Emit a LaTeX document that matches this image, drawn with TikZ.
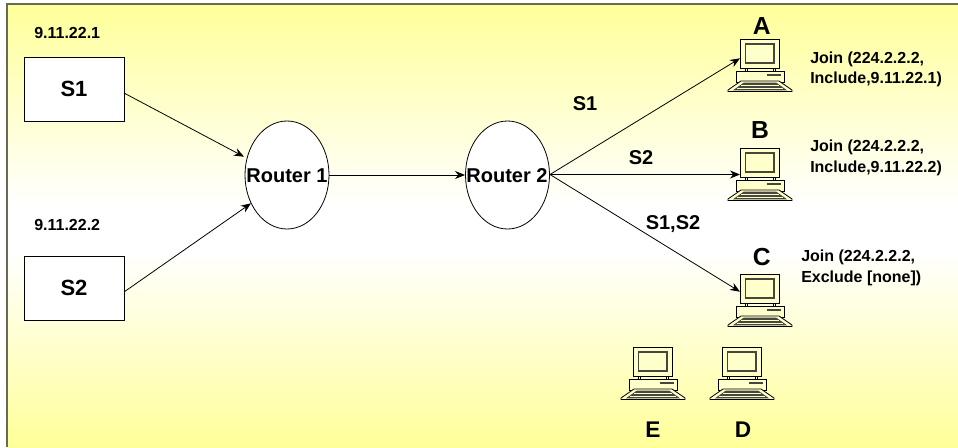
\documentclass[tikz,border=0pt]{standalone}
\usepackage{fontspec}
\setmainfont{Liberation Sans}
\usetikzlibrary{arrows.meta,shapes.geometric}
\definecolor{bgyellow}{RGB}{255,255,153}
\definecolor{edgegray}{RGB}{105,105,90}
\definecolor{pccream}{RGB}{255,255,204}
\definecolor{pcdark}{RGB}{70,70,60}
\tikzset{
  x=0.75pt,y=-0.75pt,
  lbl/.style={font=\bfseries\fontsize{12}{15.4}\selectfont,align=left,anchor=west,inner sep=0pt},
  big/.style={font=\bfseries\fontsize{15}{17}\selectfont,inner sep=0pt},
  letter/.style={font=\bfseries\fontsize{18.5}{20}\selectfont,inner sep=0pt},
  srcbox/.style={draw=black,fill=white,line width=0.6pt,minimum width=75pt,minimum height=48pt,inner sep=0pt,font=\bfseries\fontsize{16.5}{18}\selectfont},
  router/.style={draw=black,fill=white,line width=0.6pt,ellipse,minimum width=63pt,minimum height=81pt,inner sep=0pt},
  link/.style={draw=black,line width=0.6pt,-{Stealth[length=7.5pt,width=6pt]}},
  pc/.pic={
    \path[draw=black,fill=pccream,line width=0.6pt] (-19.5,0) rectangle (19.5,29);
    \path[draw=pcdark,fill=pccream,line width=0.9pt] (-14.5,5) rectangle (14,24);
    \path[draw=black,fill=white,line width=0.5pt] (-15,29) rectangle (-13,32) (13,29) rectangle (15,32);
    \path[draw=black,fill=pccream,line width=0.6pt] (-24,32) rectangle (24,43);
    \path[fill=pcdark] (7,35) rectangle (21,36.8);
    \path[draw=black,fill=pccream,line width=0.6pt] (-19,42) -- (19,42) -- (32,51) -- (32,52.5) -- (-32,52.5) -- (-32,51) -- cycle;
    \path[fill=pcdark] (-16,43.5) -- (16,43.5) -- (27,51.3) -- (-27,51.3) -- cycle;
    \path[draw=pccream,line width=0.3pt] (-19,46) -- (19,46) (-23,49) -- (23,49);
  }
}
\begin{document}
\begin{tikzpicture}
\useasboundingbox (0,0) rectangle (958,447);
\fill[white] (0,0) rectangle (958,447);
\shade[top color=bgyellow,bottom color=white] (7,4) rectangle (958,205);
\fill[white] (7,204.5) rectangle (958,250.5);
\shade[top color=white,bottom color=bgyellow] (7,250) rectangle (958,447);
\draw[edgegray,line width=0.9pt] (7,447) -- (7,4) -- (958,4);

\node[srcbox] (s1) at (74,89) {S1};
\node[srcbox] (s2) at (74,288) {S2};
\node[router] (r1) at (287,175) {};
\node[router] (r2) at (507.5,175) {};

\node[lbl] (ip1) at (34,33) {9.11.22.1};
\node[lbl] (ip2) at (34,225) {9.11.22.2};

\pic at (760,39) {pc};
\pic at (760,148) {pc};
\pic at (760,274) {pc};
\pic at (653,347) {pc};
\pic at (742,347) {pc};
\coordinate (pa) at (740,58.3);
\coordinate (pb) at (740,174.5);
\coordinate (pc) at (740,291.7);
\coordinate (r1l) at (244,156.7);
\coordinate (r1b) at (251,203.3);
\coordinate (r1r) at (329.3,175);
\coordinate (r2l) at (465,175);
\coordinate (r2r) at (550,174.5);
\coordinate (s1r) at (124,93);
\coordinate (s2r) at (124,292);

\draw[link] (s1r) -- (r1l);
\draw[link] (s2r) -- (r1b);
\draw[link] (r1r) -- (r2l);
\draw[link] (r2r) -- (pa);
\draw[link] (r2r) -- (pb);
\draw[link] (r2r) -- (pc);

\node[big] (r1t) at (287,176) {Router 1};
\node[big] (r2t) at (507,176) {Router 2};

\node[big] (ls1) at (585,104) {S1};
\node[big] (ls2) at (641,157.5) {S2};
\node[big] (ls12) at (673,224) {S1,S2};

\node[letter] (a) at (761.7,25.7) {A};
\node[letter] (b) at (760,130) {B};
\node[letter] (c) at (761.7,257.3) {C};
\node[letter,font=\bfseries\fontsize{17}{20}\selectfont] (d) at (743,430) {D};
\node[letter,font=\bfseries\fontsize{17}{20}\selectfont] (e) at (653,430) {E};

\node[lbl] (ja) at (810,69.5) {Join (224.2.2.2,\\Include,9.11.22.1)};
\node[lbl] (jb) at (810,158) {Join (224.2.2.2,\\Include,9.11.22.2)};
\node[lbl] (jc) at (801,268) {Join (224.2.2.2,\\Exclude [none])};
\end{tikzpicture}
\end{document}
